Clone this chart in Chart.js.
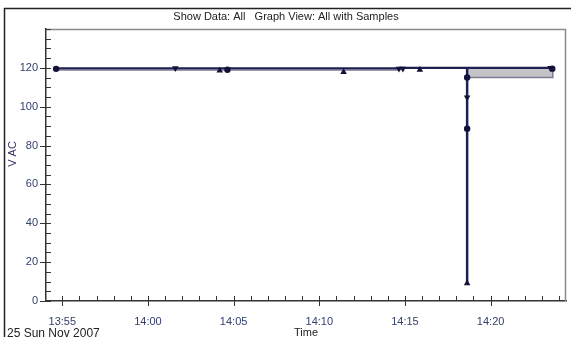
<!DOCTYPE html>
<html>
<head>
<meta charset="utf-8">
<script src="https://cdn.jsdelivr.net/npm/chart.js@4/dist/chart.umd.min.js"></script>
<style>
html,body{margin:0;padding:0;background:#fff;}
canvas{display:block;}
</style>
</head>
<body>
<canvas id="c" width="571" height="337"></canvas>
<script>
// Time values are minutes after 13:00 on 25 Nov 2007
const xTickValues = [55, 60, 65, 70, 75, 80];
const xTickLabels = ['13:55', '14:00', '14:05', '14:10', '14:15', '14:20'];
const yTickValues = [0, 20, 40, 60, 80, 100, 120];

// Max / min envelope
const envTimes = [54.64, 74.7, 74.7, 78.63, 78.63, 83.63, 83.63];
const envMax   = [119.8, 119.8, 120.0, 120.0, 120.0, 120.0, 120.0];
const envMin   = [118.9, 118.9, 120.0, 120.0, 115.0, 115.0, 120.0];

// Event drop (vertical excursion)
const eventTimes  = [78.63, 78.63];
const eventValues = [120.0, 9.1];

// Sample markers
const circleTimes  = [54.64, 64.64, 78.63, 78.63, 83.6];
const circleValues = [119.5, 119.0, 115.0, 88.7, 119.6];
const downTimes    = [61.6, 74.65, 74.88, 78.63, 83.5];
const downValues   = [119.8, 119.6, 119.6, 104.8, 120.0];
const upTimes      = [64.19, 71.42, 75.87, 78.63];
const upValues     = [118.6, 117.8, 119.0, 9.1];

const titleText = 'Show Data: All   Graph View: All with Samples';
const dateText = '25 Sun Nov 2007';
const yTitle = 'V AC';
const xTitle = 'Time';

const NAVY = '#1f1f52';
const MARK = '#12123a';
const LABEL = '#34406e';
const FONT = '"Liberation Sans", Arial, sans-serif';

function pts(xs, ys) { return xs.map((x, i) => ({ x: x, y: ys[i] })); }

const decor = {
  id: 'decor',
  beforeDraw(chart) {
    const ctx = chart.ctx;
    const a = chart.chartArea;
    ctx.save();
    ctx.fillStyle = '#fff';
    ctx.fillRect(0, 0, chart.width, chart.height);
    // outer frame
    ctx.strokeStyle = '#222';
    ctx.lineWidth = 1.5;
    ctx.beginPath();
    ctx.moveTo(4.5, chart.height);
    ctx.lineTo(4.5, 8.5);
    ctx.lineTo(chart.width, 8.5);
    ctx.stroke();
    // title
    ctx.fillStyle = '#222';
    ctx.font = '11px ' + FONT;
    ctx.textAlign = 'center';
    ctx.textBaseline = 'middle';
    ctx.fillText(titleText, 286, 17);
    // x title
    ctx.fillText(xTitle, (a.left + a.right) / 2, 333);
    // date
    ctx.textAlign = 'left';
    ctx.font = '12px ' + FONT;
    ctx.fillText(dateText, 7, 334);
    // y title
    ctx.save();
    ctx.translate(13, 154);
    ctx.rotate(-Math.PI / 2);
    ctx.textAlign = 'center';
    ctx.fillStyle = '#33336b';
    ctx.font = '11px ' + FONT;
    ctx.fillText(yTitle, 0, 0);
    ctx.restore();
    ctx.restore();
  },
  afterDraw(chart) {
    const ctx = chart.ctx;
    const a = chart.chartArea;
    const xs = chart.scales.x, ys = chart.scales.y;
    ctx.save();
    // plot frame top & right
    ctx.strokeStyle = '#8a8a8a';
    ctx.lineWidth = 1.5;
    ctx.beginPath();
    ctx.moveTo(a.left, a.top + 0.5);
    ctx.lineTo(a.right - 0.5, a.top + 0.5);
    ctx.lineTo(a.right - 0.5, a.bottom);
    ctx.stroke();
    // ticks
    ctx.strokeStyle = '#333';
    ctx.lineWidth = 1;
    ctx.beginPath();
    for (let m = Math.ceil(xs.min); m <= Math.floor(xs.max); m++) {
      const px = Math.round(xs.getPixelForValue(m)) + 0.5;
      const major = xTickValues.includes(m);
      ctx.moveTo(px, a.bottom - 5);
      ctx.lineTo(px, a.bottom + (major ? 5 : 0));
    }
    for (let v = ys.min; v <= ys.max; v += 5) {
      const py = Math.round(ys.getPixelForValue(v)) + 0.5;
      const major = yTickValues.includes(v);
      ctx.moveTo(a.left + 5, py);
      ctx.lineTo(a.left - (major ? 6 : 0), py);
    }
    ctx.stroke();
    ctx.restore();
  }
};

new Chart(document.getElementById('c'), {
  type: 'line',
  data: {
    datasets: [
      { data: pts(circleTimes, circleValues), showLine: false, pointStyle: 'circle', pointRadius: 3.2,
        pointBackgroundColor: MARK, pointBorderColor: MARK, pointBorderWidth: 0, order: 0 },
      { data: pts(downTimes, downValues), showLine: false, pointStyle: 'triangle', rotation: 180, pointRadius: 3.8,
        pointBackgroundColor: MARK, pointBorderColor: MARK, pointBorderWidth: 0, order: 0 },
      { data: pts(upTimes, upValues), showLine: false, pointStyle: 'triangle', pointRadius: 3.8,
        pointBackgroundColor: MARK, pointBorderColor: MARK, pointBorderWidth: 0, order: 0 },
      { data: pts(eventTimes, eventValues), borderColor: NAVY, borderWidth: 2.5, pointRadius: 0, fill: false, order: 1 },
      { data: pts(envTimes, envMax), borderColor: NAVY, borderWidth: 2.2, pointRadius: 0, fill: false, order: 2 },
      { data: pts(envTimes, envMin), borderColor: '#7c7c92', borderWidth: 1.5, pointRadius: 0,
        fill: '-1', backgroundColor: '#c4c4c8', order: 3 }
    ]
  },
  options: {
    responsive: false,
    animation: false,
    devicePixelRatio: 1,
    layout: { padding: { left: 0, right: 5, top: 29, bottom: 0 } },
    plugins: { legend: { display: false }, tooltip: { enabled: false } },
    scales: {
      x: {
        type: 'linear', min: 54.05, max: 84.4,
        grid: { display: false, drawTicks: false },
        border: { display: true, color: '#333', width: 1.5 },
        afterBuildTicks(s) { s.ticks = xTickValues.map(v => ({ value: v })); },
        afterFit(s) { s.height = 36; },
        ticks: {
          padding: 14, color: LABEL, maxRotation: 0, autoSkip: false,
          font: { family: FONT, size: 11 },
          callback: (v, i) => xTickLabels[i]
        }
      },
      y: {
        min: 0, max: 140,
        grid: { display: false, drawTicks: false },
        border: { display: true, color: '#333', width: 1.5 },
        afterBuildTicks(s) { s.ticks = yTickValues.map(v => ({ value: v })); },
        afterFit(s) { s.width = 46; },
        ticks: {
          padding: 8, color: LABEL, autoSkip: false,
          font: { family: FONT, size: 11 }
        }
      }
    }
  },
  plugins: [decor]
});
</script>
</body>
</html>
